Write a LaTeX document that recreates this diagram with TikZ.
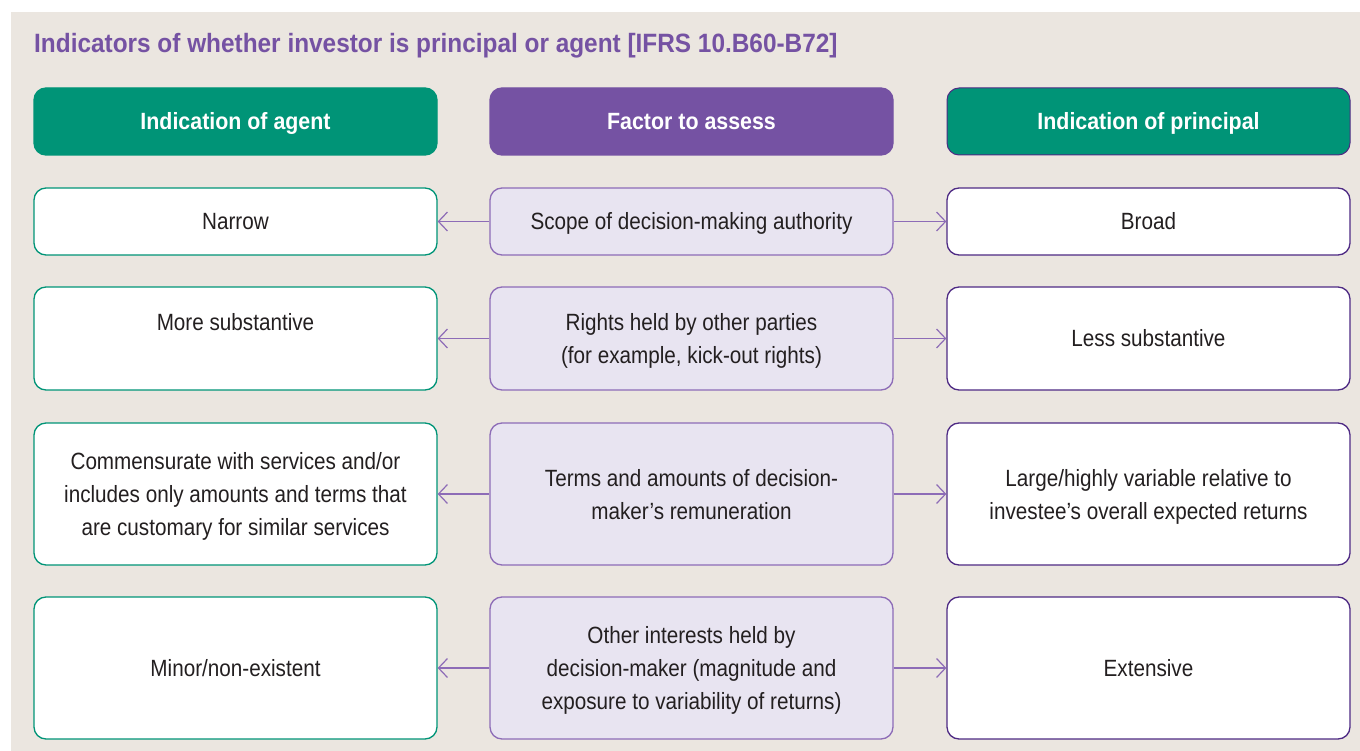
\documentclass[tikz,border=0pt]{standalone}
\usepackage{fontspec}
\setmainfont{Liberation Sans}[FakeStretch=0.88]
\newfontfamily\hdrfont{Liberation Sans}[FakeStretch=0.91]
\newfontfamily\titlefont{Liberation Sans}[FakeStretch=0.92]
\usetikzlibrary{arrows.meta}
\definecolor{bgc}{HTML}{EBE6E0}
\definecolor{tealc}{HTML}{009477}
\definecolor{purh}{HTML}{7552A3}
\definecolor{lav}{HTML}{E8E4F1}
\definecolor{midb}{HTML}{8D6CB7}
\definecolor{rightb}{HTML}{4E2A84}
\definecolor{txt}{HTML}{231F20}
\tikzset{
  box/.style={rounded corners=12pt, minimum width=403pt, line width=1.3pt, inner sep=0pt,
    align=center, text=txt, font=\fontsize{23.5}{33}\selectfont},
  one/.style={text height=20pt, text depth=3.2pt},
  lbox/.style={box, draw=tealc, fill=white},
  mbox/.style={box, draw=midb, fill=lav},
  rbox/.style={box, draw=rightb, fill=white},
  hdr/.style={box, one, minimum height=67pt, text=white, font=\hdrfont\bfseries\fontsize{23.5}{33}\selectfont},
  conn/.style={draw=midb, line width=1.2pt, -{Straight Barb[length=9pt,width=19pt,line width=1.2pt]}},
}
\begin{document}
\begin{tikzpicture}[x=1pt,y=-1pt]
\useasboundingbox (0,0) rectangle (1360,751);
\fill[bgc] (11,12) rectangle (1360,751);
\node[anchor=base west, inner sep=0pt, text=purh, font=\titlefont\bfseries\fontsize{26.5}{30}\selectfont] (title) at (34,53) {Indicators of whether investor is principal or agent [IFRS 10.B60-B72]};
% headers
\node[hdr, fill=tealc, draw=tealc] (h1) at (235.5,121.5) {Indication of agent};
\node[hdr, fill=purh, draw=purh] (h2) at (691.5,121.5) {Factor to assess};
\node[hdr, fill=tealc, draw=rightb, line width=1pt] (h3) at (1148.5,121.5) {Indication of principal};
% row 1
\node[lbox, one, minimum height=67pt] (l1) at (235.5,221.5) {Narrow};
\node[mbox, one, minimum height=67pt] (m1) at (691.5,221.5) {Scope of decision-making authority};
\node[rbox, one, minimum height=67pt] (r1) at (1148.5,221.5) {Broad};
% row 2
\node[lbox, text depth=-1pt, minimum height=103pt] (l2) at (235.5,338.5) {More substantive\\\phantom{(for example, kick-out rights)}};
\node[mbox, text depth=-1pt, minimum height=103pt] (m2) at (691.5,338.5) {Rights held by other parties\\(for example, kick-out rights)};
\node[rbox, one, minimum height=103pt] (r2) at (1148.5,338.5) {Less substantive};
% row 3
\node[lbox, text depth=-1pt, minimum height=142pt] (l3) at (235.5,494) {Commensurate with services and/or\\includes only amounts and terms that\\are customary for similar services};
\node[mbox, text depth=-5pt, minimum height=142pt] (m3) at (691.5,494) {Terms and amounts of decision-\\maker’s remuneration};
\node[rbox, text depth=-2pt, minimum height=142pt] (r3) at (1148.5,494) {Large/highly variable relative to\\investee’s overall expected returns};
% row 4
\node[lbox, one, minimum height=142pt] (l4) at (235.5,668) {Minor/non-existent};
\node[mbox, text depth=-1pt, minimum height=142pt] (m4) at (691.5,668) {Other interests held by\\decision-maker (magnitude and\\exposure to variability of returns)};
\node[rbox, one, minimum height=142pt] (r4) at (1148.5,668) {Extensive};
% connectors
\foreach \i in {1,2,3,4}{
  \draw[conn] (m\i.west) -- (l\i.east);
  \draw[conn] (m\i.east) -- (r\i.west);
}
\end{tikzpicture}
\end{document}
